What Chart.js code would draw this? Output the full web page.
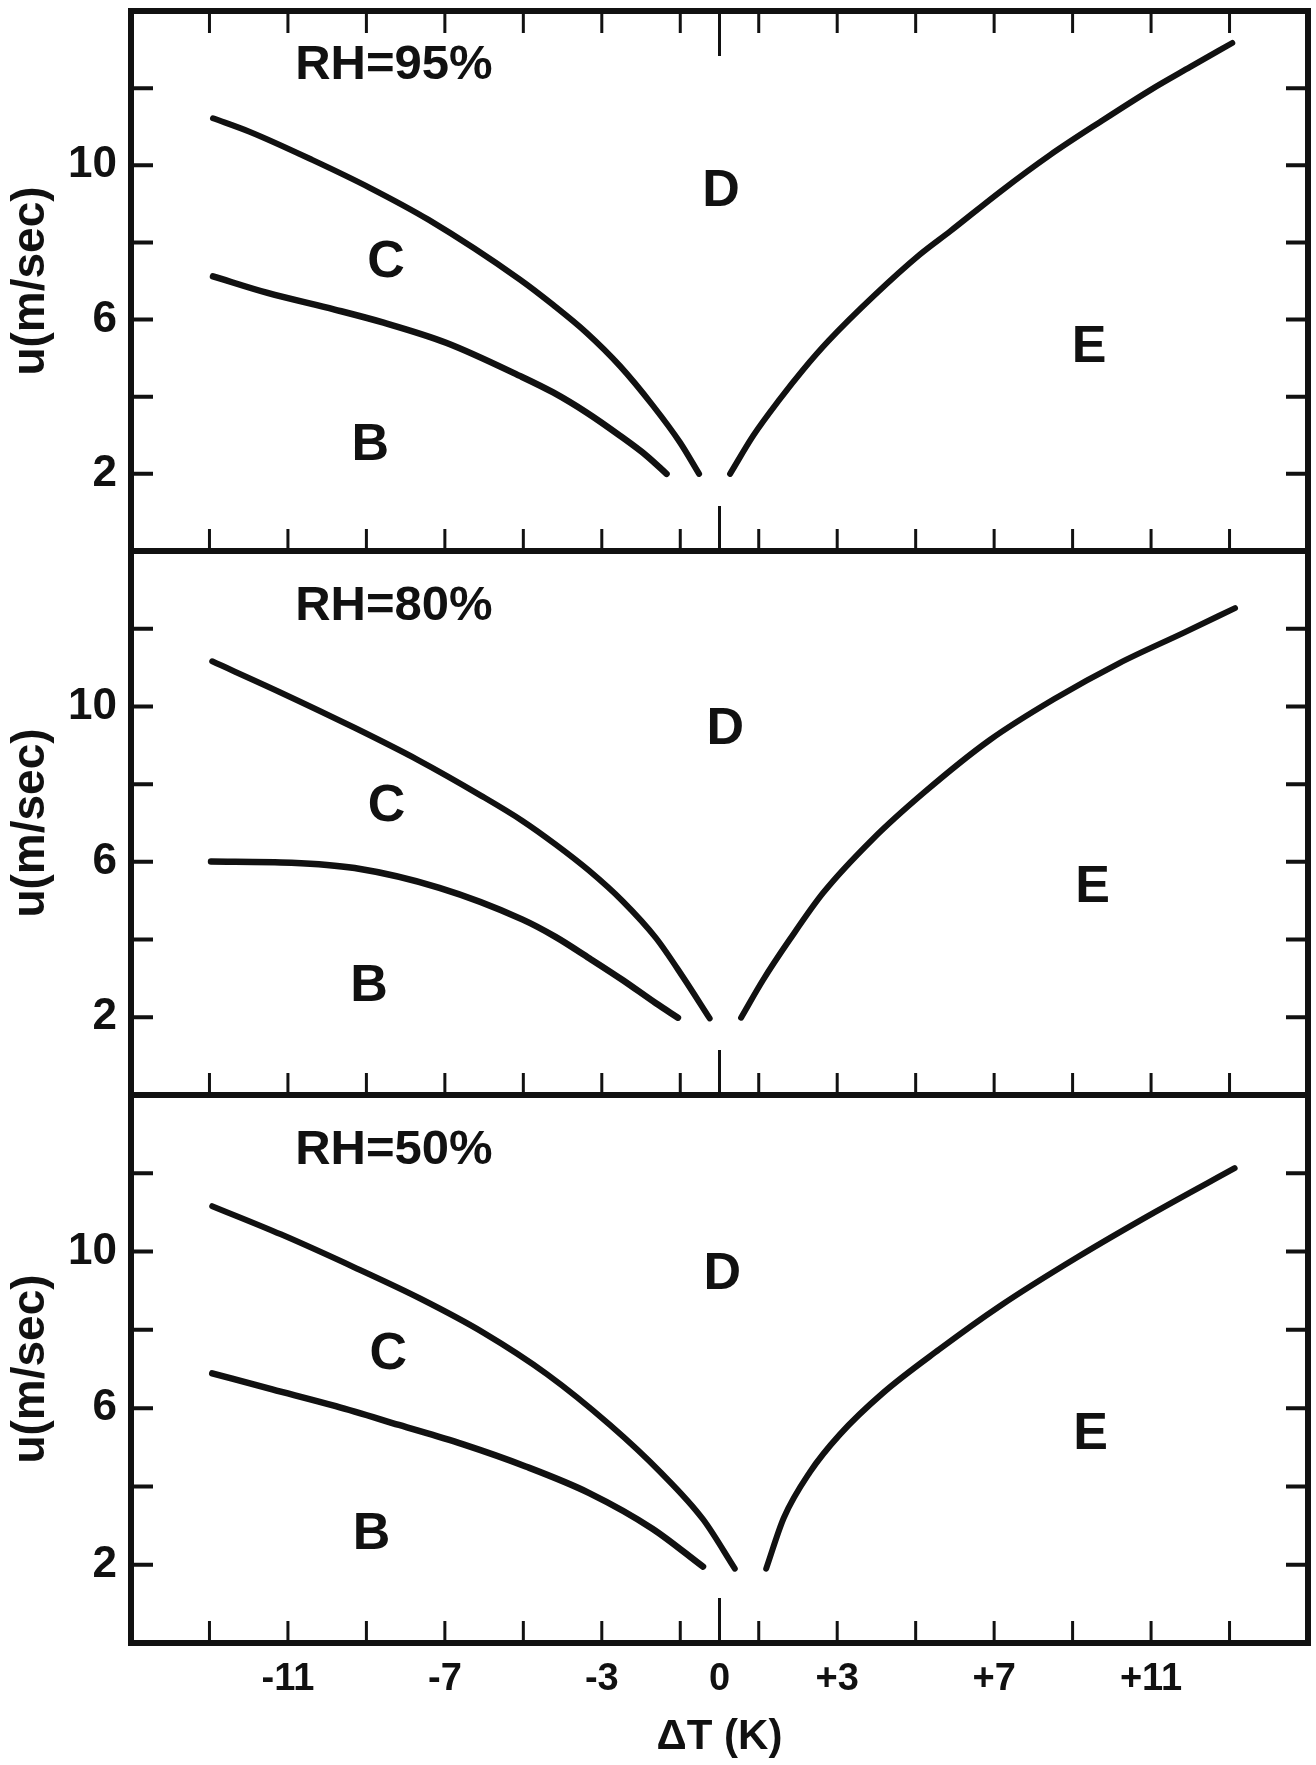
<!DOCTYPE html>
<html>
<head>
<meta charset="utf-8">
<script src="https://cdn.jsdelivr.net/npm/chart.js@4.4.1/dist/chart.umd.min.js"></script>
<style>
  html, body { margin: 0; padding: 0; background: #fff; }
  #wrap { position: relative; width: 1316px; height: 1765px; overflow: hidden; }
  canvas { position: absolute; left: 0; }
</style>
</head>
<body>
<div id="wrap">
  <canvas id="rh95" width="1316" height="560" style="top:0px"></canvas>
  <canvas id="rh80" width="1316" height="564" style="top:541px"></canvas>
  <canvas id="rh50" width="1316" height="680" style="top:1085px"></canvas>
</div>
<script>
// ===== Axes =====
const xTickValues = [-13, -11, -9, -7, -5, -3, -1, 0, 1, 3, 5, 7, 9, 11, 13];
const xLabelValues = [-11, -7, -3, 0, 3, 7, 11];
const xTickLabels = ['-11', '-7', '-3', '0', '+3', '+7', '+11'];
const yTickValues = [2, 4, 6, 8, 10, 12];
const yLabelValues = [2, 6, 10];

const regionNames = ['B', 'C', 'D', 'E'];

// ===== RH = 95% =====
const upperX95 = [-12.91, -11.98, -10.38, -8.90, -7.42, -5.09, -4.24, -3.39, -2.54, -1.69, -1.01, -0.52];
const upperU95 = [11.22, 10.87, 10.14, 9.41, 8.59, 7.04, 6.38, 5.66, 4.80, 3.76, 2.82, 2.0];
const lowerX95 = [-12.91, -11.52, -9.81, -8.56, -6.97, -5.09, -4.24, -3.39, -2.54, -1.86, -1.35];
const lowerU95 = [7.12, 6.69, 6.26, 5.92, 5.40, 4.54, 4.11, 3.59, 2.99, 2.47, 2.0];
const rightX95 = [0.27, 0.86, 1.54, 2.14, 2.78, 3.94, 5.10, 5.88, 7.16, 8.43, 9.71, 10.98, 12.00, 13.07];
const rightU95 = [2.0, 2.99, 3.94, 4.71, 5.45, 6.62, 7.68, 8.29, 9.32, 10.27, 11.13, 11.95, 12.55, 13.17];
const regionX95 = [-8.90, -8.50, 0.04, 9.42];
const regionU95 = [2.72, 7.48, 9.31, 5.28];

// ===== RH = 80% =====
const upperX80 = [-12.93, -11.23, -9.30, -7.68, -6.07, -5.03, -4.18, -3.32, -2.47, -1.62, -0.94, -0.25];
const upperU80 = [11.16, 10.38, 9.45, 8.62, 7.70, 7.06, 6.45, 5.77, 4.99, 4.04, 3.05, 1.97];
const lowerX80 = [-12.96, -10.91, -9.30, -7.14, -5.03, -4.18, -3.32, -2.47, -1.62, -1.06];
const lowerU80 = [6.01, 5.98, 5.84, 5.33, 4.52, 4.07, 3.52, 2.96, 2.36, 1.99];
const rightX80 = [0.55, 1.11, 1.79, 2.64, 3.90, 5.22, 6.88, 8.53, 10.18, 11.84, 13.14];
const rightU80 = [1.99, 2.96, 4.0, 5.20, 6.58, 7.79, 9.13, 10.19, 11.11, 11.90, 12.53];
const regionX80 = [-8.93, -8.49, 0.15, 9.51];
const regionU80 = [2.79, 7.41, 9.39, 5.33];

// ===== RH = 50% =====
const upperX50 = [-12.93, -11.18, -9.25, -7.63, -6.02, -4.40, -2.79, -1.50, -0.42, 0.39];
const upperU50 = [11.16, 10.44, 9.57, 8.80, 7.93, 6.87, 5.57, 4.36, 3.16, 1.90];
const lowerX50 = [-12.93, -11.40, -9.78, -8.17, -6.55, -4.94, -3.32, -1.71, -0.42];
const lowerU50 = [6.89, 6.48, 6.05, 5.57, 5.08, 4.51, 3.83, 2.92, 1.95];
const rightX50 = [1.19, 1.64, 2.30, 3.07, 4.17, 5.60, 7.15, 9.13, 11.12, 13.13];
const rightU50 = [1.90, 3.20, 4.36, 5.33, 6.39, 7.50, 8.61, 9.86, 11.02, 12.13];
const regionX50 = [-8.87, -8.44, 0.07, 9.46];
const regionU50 = [2.77, 7.36, 9.40, 5.33];

const INK = '#111';
const FONT = '"Liberation Sans", Arial, Helvetica, sans-serif';

const toPoints = (xs, us) => xs.map((x, i) => ({ x: x, y: us[i] }));

// Cadre, graduations internes et textes
const framePlugin = {
  id: 'frame',
  afterDatasetsDraw(chart, args, opts) {
    const { ctx, chartArea: a } = chart;
    const x = chart.scales.x;
    const y = chart.scales.y;
    ctx.save();
    ctx.strokeStyle = INK;
    ctx.lineCap = 'butt';

    ctx.lineWidth = 4;
    yTickValues.forEach(v => {
      const py = y.getPixelForValue(v);
      ctx.beginPath();
      ctx.moveTo(a.left, py);
      ctx.lineTo(a.left + 22, py);
      ctx.moveTo(a.right, py);
      ctx.lineTo(a.right - 22, py);
      ctx.stroke();
    });

    ctx.lineWidth = 3;
    const edges = opts.topTicks ? [a.bottom, a.top] : [a.bottom];
    xTickValues.forEach(v => {
      const px = x.getPixelForValue(v);
      const len = v === 0 ? 45 : 22;
      edges.forEach(e => {
        const dir = e === a.bottom ? -1 : 1;
        ctx.beginPath();
        ctx.moveTo(px, e);
        ctx.lineTo(px, e + dir * len);
        ctx.stroke();
      });
    });

    ctx.lineWidth = 6;
    ctx.strokeRect(a.left, a.top, a.right - a.left, a.bottom - a.top);

    ctx.fillStyle = INK;
    ctx.textAlign = 'center';
    ctx.textBaseline = 'middle';
    ctx.font = 'bold 49px ' + FONT;
    ctx.fillText(opts.title, x.getPixelForValue(-8.3), y.getPixelForValue(12.58));

    ctx.font = 'bold 52px ' + FONT;
    regionNames.forEach((name, i) => {
      ctx.fillText(name, x.getPixelForValue(opts.regionX[i]), y.getPixelForValue(opts.regionU[i]));
    });
    ctx.restore();
  }
};

function makePanel(canvasId, cfg) {
  const curveStyle = {
    borderColor: INK,
    borderWidth: 6,
    pointRadius: 0,
    showLine: true,
    fill: false,
    cubicInterpolationMode: 'monotone',
    borderCapStyle: 'round'
  };

  return new Chart(document.getElementById(canvasId), {
    type: 'scatter',
    data: {
      datasets: [
        Object.assign({ data: toPoints(cfg.upperX, cfg.upperU) }, curveStyle),
        Object.assign({ data: toPoints(cfg.lowerX, cfg.lowerU) }, curveStyle, { borderWidth: 6.5 }),
        Object.assign({ data: toPoints(cfg.rightX, cfg.rightU) }, curveStyle)
      ]
    },
    options: {
      responsive: false,
      animation: false,
      devicePixelRatio: 1,
      layout: { padding: { left: 0, right: 8, top: cfg.padTop, bottom: cfg.padBottom } },
      plugins: {
        legend: { display: false },
        tooltip: { enabled: false },
        frame: {
          topTicks: cfg.topTicks,
          title: cfg.title,
          regionX: cfg.regionX,
          regionU: cfg.regionU
        }
      },
      scales: {
        x: {
          type: 'linear',
          min: -15,
          max: 15,
          display: cfg.showX,
          grid: { display: false, drawTicks: false },
          border: { display: false },
          afterBuildTicks(scale) {
            scale.ticks = xLabelValues.map(v => ({ value: v }));
          },
          afterFit(scale) {
            scale.paddingLeft = 0;
            scale.paddingRight = 0;
            if (cfg.showX) scale.height = 122;
          },
          ticks: {
            autoSkip: false,
            maxRotation: 0,
            padding: 14,
            color: INK,
            font: { family: FONT, size: 38, weight: 'bold' },
            callback(value) {
              const i = xLabelValues.indexOf(value);
              return i >= 0 ? xTickLabels[i] : '';
            }
          },
          title: {
            display: true,
            text: 'ΔT (K)',
            color: INK,
            padding: { top: 0, bottom: 2 },
            font: { family: FONT, size: 42, weight: 'bold' }
          }
        },
        y: {
          type: 'linear',
          min: 0,
          max: 14,
          grid: { display: false, drawTicks: false },
          border: { display: false },
          afterBuildTicks(scale) {
            scale.ticks = yTickValues.map(v => ({ value: v }));
          },
          afterFit(scale) {
            scale.width = 131;
            scale.paddingTop = 0;
            scale.paddingBottom = 0;
          },
          ticks: {
            autoSkip: false,
            padding: 14,
            color: INK,
            font: { family: FONT, size: 44, weight: 'bold' },
            callback(value) {
              return yLabelValues.includes(value) ? String(value) : '';
            }
          },
          title: {
            display: true,
            text: 'u(m/sec)',
            color: INK,
            padding: { top: 4, bottom: 0 },
            font: { family: FONT, size: 46, weight: 'bold' }
          }
        }
      }
    },
    plugins: [framePlugin]
  });
}

makePanel('rh95', {
  title: 'RH=95%', topTicks: true, showX: false, padTop: 11, padBottom: 9,
  upperX: upperX95, upperU: upperU95, lowerX: lowerX95, lowerU: lowerU95,
  rightX: rightX95, rightU: rightU95, regionX: regionX95, regionU: regionU95
});

makePanel('rh80', {
  title: 'RH=80%', topTicks: false, showX: false, padTop: 10, padBottom: 10,
  upperX: upperX80, upperU: upperU80, lowerX: lowerX80, lowerU: lowerU80,
  rightX: rightX80, rightU: rightU80, regionX: regionX80, regionU: regionU80
});

makePanel('rh50', {
  title: 'RH=50%', topTicks: false, showX: true, padTop: 10, padBottom: 0,
  upperX: upperX50, upperU: upperU50, lowerX: lowerX50, lowerU: lowerU50,
  rightX: rightX50, rightU: rightU50, regionX: regionX50, regionU: regionU50
});
</script>
</body>
</html>
